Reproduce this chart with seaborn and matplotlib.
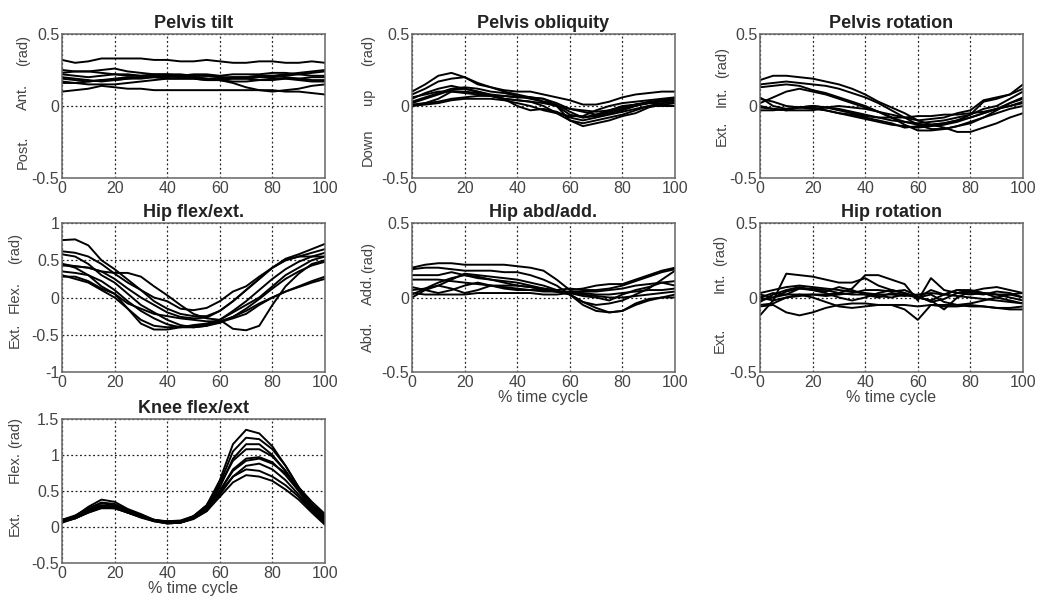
import numpy as np
import pandas as pd
import matplotlib
matplotlib.use("Agg")
import matplotlib.pyplot as plt
import seaborn as sns

# % of gait cycle, sampled every 5 %
cycle = list(range(0, 101, 5))

pelvis_tilt = [
    [0.32,0.30,0.31,0.33,0.33,0.33,0.33,0.32,0.32,0.31,0.31,0.32,0.31,0.30,0.30,0.31,0.31,0.30,0.30,0.31,0.30],
    [0.10,0.11,0.12,0.14,0.13,0.12,0.12,0.11,0.11,0.11,0.11,0.11,0.11,0.11,0.11,0.11,0.11,0.10,0.10,0.09,0.08],
    [0.17,0.16,0.15,0.15,0.15,0.16,0.17,0.18,0.19,0.19,0.19,0.18,0.18,0.16,0.13,0.11,0.10,0.11,0.12,0.14,0.15],
    [0.25,0.24,0.24,0.25,0.26,0.24,0.23,0.22,0.22,0.21,0.21,0.21,0.20,0.20,0.20,0.21,0.21,0.22,0.23,0.24,0.25],
    [0.22,0.21,0.20,0.21,0.22,0.22,0.21,0.21,0.21,0.20,0.20,0.19,0.18,0.19,0.19,0.20,0.20,0.21,0.22,0.23,0.24],
    [0.19,0.18,0.17,0.18,0.19,0.20,0.20,0.21,0.21,0.20,0.20,0.19,0.19,0.20,0.20,0.21,0.21,0.20,0.19,0.18,0.18],
    [0.16,0.16,0.17,0.18,0.18,0.19,0.20,0.20,0.19,0.19,0.19,0.18,0.18,0.17,0.17,0.18,0.19,0.19,0.18,0.17,0.17],
    [0.23,0.24,0.24,0.23,0.22,0.21,0.21,0.22,0.22,0.22,0.21,0.21,0.20,0.19,0.19,0.18,0.18,0.19,0.19,0.20,0.20],
    [0.20,0.19,0.18,0.17,0.18,0.19,0.19,0.20,0.20,0.21,0.22,0.22,0.21,0.22,0.22,0.22,0.23,0.23,0.22,0.21,0.21],
]

pelvis_obliquity = [
    [0.10,0.15,0.21,0.23,0.20,0.15,0.13,0.11,0.10,0.10,0.08,0.06,0.04,0.01,0.01,0.03,0.06,0.08,0.09,0.10,0.10],
    [0.08,0.12,0.17,0.19,0.20,0.16,0.13,0.10,0.08,0.06,0.03,0.00,-0.06,-0.08,-0.06,-0.04,-0.02,0.01,0.03,0.04,0.05],
    [0.05,0.09,0.12,0.14,0.12,0.10,0.08,0.07,0.06,0.06,0.05,0.00,-0.10,-0.14,-0.12,-0.10,-0.07,-0.05,-0.01,0.01,0.02],
    [0.02,0.05,0.08,0.11,0.12,0.10,0.07,0.05,0.04,0.03,0.00,-0.05,-0.10,-0.12,-0.10,-0.08,-0.06,-0.03,0.00,0.02,0.03],
    [0.00,0.02,0.05,0.10,0.10,0.09,0.07,0.05,0.00,-0.03,-0.02,-0.04,-0.08,-0.10,-0.08,-0.06,-0.04,-0.02,0.00,0.00,0.00],
    [0.01,0.02,0.03,0.05,0.06,0.07,0.07,0.07,0.06,0.06,0.05,0.02,-0.02,-0.04,-0.06,-0.03,0.00,0.01,0.02,0.04,0.05],
    [0.06,0.08,0.10,0.10,0.09,0.08,0.07,0.05,0.04,0.03,0.02,0.00,-0.02,-0.03,-0.04,-0.03,-0.01,0.01,0.02,0.01,0.00],
    [0.00,0.01,0.02,0.04,0.05,0.05,0.05,0.04,0.02,0.00,-0.03,-0.05,-0.07,-0.07,-0.03,0.00,0.02,0.03,0.04,0.05,0.06],
    [0.03,0.06,0.09,0.12,0.13,0.12,0.10,0.09,0.07,0.05,0.03,0.01,-0.04,-0.08,-0.07,-0.05,-0.03,0.00,0.02,0.03,0.04],
]

pelvis_rotation = [
    [0.18,0.21,0.21,0.20,0.19,0.17,0.15,0.12,0.08,0.03,-0.01,-0.05,-0.10,-0.13,-0.15,-0.18,-0.18,-0.15,-0.12,-0.08,-0.05],
    [0.15,0.16,0.17,0.16,0.15,0.14,0.12,0.09,0.06,0.02,-0.03,-0.08,-0.13,-0.16,-0.16,-0.14,-0.12,-0.08,-0.05,-0.02,0.00],
    [0.13,0.14,0.15,0.14,0.11,0.09,0.06,0.03,0.00,-0.04,-0.08,-0.13,-0.17,-0.17,-0.16,-0.14,-0.11,-0.08,-0.03,0.02,0.06],
    [0.02,0.06,0.10,0.12,0.10,0.08,0.05,0.02,-0.01,-0.04,-0.08,-0.11,-0.13,-0.13,-0.12,-0.10,-0.06,0.03,0.05,0.08,0.15],
    [0.06,0.00,-0.02,-0.01,-0.02,-0.03,-0.05,-0.06,-0.08,-0.10,-0.12,-0.15,-0.14,-0.13,-0.12,-0.10,-0.08,-0.05,-0.02,0.02,0.05],
    [0.00,-0.02,-0.03,-0.01,0.00,-0.01,-0.02,-0.04,-0.06,-0.08,-0.10,-0.11,-0.12,-0.11,-0.10,-0.08,-0.06,-0.02,0.00,0.05,0.10],
    [-0.03,-0.03,-0.02,-0.01,0.00,-0.01,-0.03,-0.05,-0.07,-0.08,-0.08,-0.08,-0.07,-0.07,-0.06,-0.06,-0.05,-0.04,-0.02,0.00,0.02],
    [-0.01,-0.02,-0.03,-0.03,-0.03,-0.01,0.00,-0.01,-0.02,-0.04,-0.06,-0.08,-0.10,-0.09,-0.08,-0.05,-0.03,0.04,0.06,0.08,0.12],
    [0.05,0.03,0.00,-0.01,-0.01,-0.03,-0.05,-0.07,-0.09,-0.11,-0.13,-0.14,-0.15,-0.14,-0.13,-0.11,-0.08,-0.05,-0.02,0.00,0.03],
]

hip_flex = [
    [0.77,0.78,0.70,0.50,0.38,0.24,0.10,0.00,-0.05,-0.15,-0.17,-0.14,-0.05,0.08,0.15,0.28,0.40,0.50,0.55,0.55,0.55],
    [0.62,0.60,0.55,0.45,0.32,0.20,0.10,-0.05,-0.15,-0.22,-0.25,-0.25,-0.18,-0.05,0.10,0.25,0.40,0.52,0.58,0.65,0.72],
    [0.58,0.55,0.45,0.30,0.20,0.05,-0.10,-0.20,-0.30,-0.37,-0.40,-0.38,-0.30,-0.18,-0.05,0.10,0.25,0.38,0.48,0.55,0.60],
    [0.45,0.40,0.30,0.15,0.05,-0.15,-0.35,-0.43,-0.43,-0.40,-0.37,-0.35,-0.30,-0.20,-0.10,0.00,0.15,0.30,0.40,0.50,0.55],
    [0.43,0.42,0.40,0.35,0.33,0.33,0.28,0.15,0.03,-0.10,-0.22,-0.28,-0.30,-0.42,-0.44,-0.38,-0.10,0.15,0.32,0.45,0.50],
    [0.30,0.25,0.20,0.10,0.00,-0.15,-0.30,-0.38,-0.40,-0.39,-0.38,-0.36,-0.33,-0.28,-0.22,-0.10,0.00,0.08,0.15,0.22,0.28],
    [0.28,0.28,0.22,0.12,0.05,-0.08,-0.15,-0.22,-0.25,-0.28,-0.30,-0.32,-0.32,-0.26,-0.18,-0.08,0.00,0.08,0.14,0.20,0.25],
    [0.45,0.42,0.40,0.35,0.25,0.12,0.00,-0.10,-0.20,-0.26,-0.28,-0.27,-0.18,-0.05,0.10,0.25,0.40,0.50,0.55,0.60,0.65],
    [0.35,0.33,0.30,0.22,0.10,-0.05,-0.18,-0.28,-0.36,-0.40,-0.40,-0.38,-0.34,-0.26,-0.15,-0.02,0.12,0.25,0.35,0.43,0.48],
]

hip_abd = [
    [0.20,0.22,0.23,0.23,0.22,0.22,0.22,0.22,0.21,0.20,0.18,0.12,0.05,0.06,0.08,0.09,0.09,0.12,0.15,0.18,0.20],
    [0.19,0.20,0.20,0.19,0.18,0.18,0.18,0.17,0.17,0.15,0.12,0.08,0.02,-0.05,-0.09,-0.10,-0.09,-0.04,-0.01,0.00,0.00],
    [0.15,0.15,0.15,0.17,0.15,0.13,0.12,0.11,0.10,0.08,0.06,0.04,0.02,-0.03,-0.05,-0.04,-0.02,0.02,0.06,0.12,0.18],
    [0.12,0.12,0.12,0.11,0.10,0.09,0.08,0.06,0.05,0.05,0.04,0.04,0.03,0.01,0.00,-0.02,0.02,0.05,0.07,0.10,0.11],
    [0.05,0.06,0.08,0.12,0.16,0.15,0.14,0.13,0.12,0.10,0.08,0.05,0.02,-0.03,-0.07,-0.10,-0.09,-0.05,-0.02,0.00,0.02],
    [0.00,0.05,0.08,0.06,0.03,0.05,0.08,0.08,0.08,0.07,0.05,0.04,0.03,0.03,0.02,0.02,0.03,0.04,0.05,0.05,0.06],
    [0.07,0.05,0.03,0.05,0.08,0.10,0.08,0.07,0.06,0.05,0.05,0.04,0.04,0.04,0.04,0.05,0.06,0.08,0.09,0.10,0.08],
    [0.03,0.02,0.02,0.02,0.02,0.03,0.03,0.03,0.03,0.03,0.02,0.02,0.03,0.02,0.01,0.00,0.00,0.01,0.02,0.03,0.04],
    [0.02,0.06,0.10,0.13,0.15,0.14,0.12,0.10,0.08,0.07,0.06,0.05,0.06,0.05,0.05,0.06,0.08,0.11,0.14,0.17,0.19],
]

hip_rotation = [
    [-0.12,-0.02,0.16,0.15,0.14,0.12,0.10,0.10,0.13,0.08,0.05,0.03,0.00,-0.02,0.02,0.05,0.05,0.03,0.02,0.00,-0.02],
    [0.02,0.00,0.02,0.06,0.06,0.05,0.03,0.06,0.15,0.15,0.12,0.09,-0.02,0.13,0.05,0.03,0.02,0.03,0.02,0.02,0.03],
    [-0.06,-0.05,-0.10,-0.12,-0.10,-0.07,-0.05,-0.04,-0.04,-0.05,-0.05,-0.08,-0.15,-0.05,-0.06,-0.06,-0.05,-0.06,-0.07,-0.07,-0.06],
    [-0.03,0.02,0.05,0.07,0.05,0.03,0.00,-0.02,0.00,0.03,0.05,0.03,0.00,0.02,-0.03,-0.05,-0.04,-0.02,0.00,0.02,0.00],
    [0.00,0.03,0.02,0.02,0.02,0.01,0.02,0.03,0.05,0.05,0.04,0.05,0.01,-0.03,-0.01,0.03,0.04,0.06,0.07,0.05,0.03],
    [-0.05,-0.04,0.00,0.02,0.00,-0.03,-0.06,-0.07,-0.06,-0.05,-0.05,-0.05,-0.06,-0.05,-0.05,-0.05,-0.06,-0.06,-0.07,-0.08,-0.08],
    [0.00,-0.02,0.00,0.01,0.02,0.02,0.03,0.02,0.02,0.01,0.00,0.02,0.00,-0.02,-0.08,0.00,0.04,0.03,0.00,-0.02,-0.04],
    [-0.02,0.00,0.04,0.06,0.05,0.04,0.07,0.05,0.02,0.00,0.03,0.02,0.00,0.05,0.02,0.05,0.03,0.02,0.04,0.03,0.00],
    [0.03,0.05,0.07,0.08,0.07,0.06,0.05,0.04,0.03,0.02,0.02,0.01,0.02,0.03,0.02,0.01,0.00,-0.01,-0.02,-0.03,-0.04],
]

knee_flex = [
    [0.08,0.15,0.28,0.38,0.35,0.25,0.18,0.10,0.06,0.07,0.15,0.30,0.65,1.15,1.35,1.30,1.12,0.85,0.55,0.30,0.12],
    [0.10,0.16,0.26,0.34,0.32,0.24,0.16,0.10,0.08,0.08,0.14,0.30,0.60,1.05,1.24,1.22,1.08,0.85,0.55,0.32,0.15],
    [0.07,0.14,0.25,0.33,0.30,0.22,0.15,0.09,0.05,0.06,0.12,0.26,0.55,0.95,1.15,1.15,1.00,0.78,0.50,0.25,0.08],
    [0.09,0.15,0.24,0.30,0.28,0.22,0.15,0.09,0.07,0.08,0.15,0.30,0.58,0.92,1.08,1.08,0.98,0.78,0.52,0.28,0.10],
    [0.08,0.13,0.22,0.30,0.28,0.20,0.14,0.08,0.05,0.06,0.12,0.25,0.50,0.80,0.95,0.97,0.90,0.72,0.50,0.30,0.12],
    [0.10,0.14,0.22,0.28,0.27,0.20,0.14,0.09,0.08,0.09,0.15,0.28,0.50,0.78,0.92,0.95,0.88,0.75,0.55,0.35,0.18],
    [0.06,0.12,0.20,0.27,0.26,0.20,0.13,0.08,0.05,0.06,0.12,0.22,0.45,0.70,0.85,0.88,0.80,0.65,0.45,0.25,0.05],
    [0.08,0.12,0.21,0.29,0.28,0.22,0.15,0.10,0.07,0.07,0.13,0.26,0.48,0.70,0.80,0.78,0.70,0.58,0.42,0.22,0.06],
    [0.07,0.12,0.20,0.26,0.26,0.20,0.14,0.09,0.06,0.06,0.11,0.22,0.42,0.62,0.72,0.70,0.64,0.52,0.38,0.20,0.03],
]

# title, curves, y-limits, y-tick step, side labels (bottom, middle, top), x-label?
panels = [
    ("Pelvis tilt", pelvis_tilt, (-0.5, 0.5), 0.5, ("Post.", "Ant.", "(rad)"), False),
    ("Pelvis obliquity", pelvis_obliquity, (-0.5, 0.5), 0.5, ("Down", "up", "(rad)"), False),
    ("Pelvis rotation", pelvis_rotation, (-0.5, 0.5), 0.5, ("Ext.", "Int.", "(rad)"), False),
    ("Hip flex/ext.", hip_flex, (-1, 1), 0.5, ("Ext.", "Flex.", "(rad)"), False),
    ("Hip abd/add.", hip_abd, (-0.5, 0.5), 0.5, ("Abd.", "Add.", "(rad)"), True),
    ("Hip rotation", hip_rotation, (-0.5, 0.5), 0.5, ("Ext.", "Int.", "(rad)"), True),
    ("Knee flex/ext", knee_flex, (-0.5, 1.5), 0.5, ("Ext.", "Flex.", "(rad)"), True),
]

# axes boxes in pixels: left, top, right, bottom
W, H = 1040, 601
boxes = [
    (62, 34, 325, 178), (412, 34, 675, 178), (760, 34, 1023, 178),
    (62, 223, 325, 372), (412, 223, 675, 372), (760, 223, 1023, 372),
    (62, 419, 325, 563),
]
# y-positions (pixels) of the side labels: bottom, middle, top; x pixel
side_pos = [
    (152, 97, 50, 23), (147, 97, 50, 368), (133, 97, 63, 722),
    (335, 297, 248, 15), (337, 290, 257, 368), (340, 283, 250, 720),
    (523, 467, 432, 15),
]

sns.set_theme(style="white")
plt.rcParams['font.family'] = ['Liberation Sans', 'DejaVu Sans']

fig = plt.figure(figsize=(W / 100, H / 100), dpi=100)

for (title, curves, ylim, step, sides, xlab), (l, t, r, b), sp in zip(panels, boxes, side_pos):
    ax = fig.add_axes([l / W, 1 - b / H, (r - l) / W, (b - t) / H])
    rows = []
    for i, c in enumerate(curves):
        for x, v in zip(cycle, c):
            rows.append({"cycle": x, "angle": v, "trial": i})
    df = pd.DataFrame(rows)
    sns.lineplot(data=df, x="cycle", y="angle", units="trial", estimator=None,
                 color="black", linewidth=1.4, ax=ax, legend=False)
    ax.set_xlim(0, 100)
    ax.set_ylim(*ylim)
    ax.set_xticks(range(0, 101, 20))
    yt = np.arange(ylim[0], ylim[1] + 0.001, step)
    ax.set_yticks(yt)
    ax.set_yticklabels([f"{v:g}" for v in yt])
    ax.grid(True, color="#222222", linestyle=(0, (1.5, 2)), linewidth=0.9)
    for s in ax.spines.values():
        s.set_color("#666666")
        s.set_linewidth(1.1)
    ax.tick_params(axis="both", labelsize=11.5, colors="#444444", length=0, pad=2)
    ax.set_title(title, fontsize=13, fontweight="bold", color="#222222", pad=4)
    ax.set_ylabel("")
    ax.set_xlabel("% time cycle" if xlab else "", fontsize=11.5, color="#444444", labelpad=0)
    yb, ym, ytop, xp = sp
    for txt, yy in zip(sides, (yb, ym, ytop)):
        fig.text(xp / W, 1 - yy / H, txt, rotation=90, ha="center", va="center",
                 fontsize=10.5, color="#444444")

fig.savefig("out.png", dpi=100)
